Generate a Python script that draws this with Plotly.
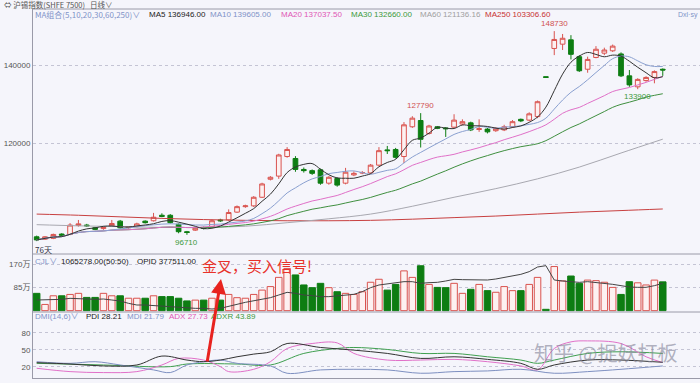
import plotly.graph_objects as go
import pandas as pd

# ---------------- data ----------------
idx = list(range(76))
opens = [96200, 95600, 95800, 96900, 96800, 99100, 99200, 98500, 98300, 99000,
         100200, 98500, 98800, 100200, 100300, 101700, 101700, 99400, 97500, 97900,
         98600, 98800, 100500, 100500, 102500, 103900, 104100, 106300, 110900, 111700,
         116700, 116200, 113400, 113100, 113300, 109900, 111100, 109900, 112000, 112500,
         112500, 114500, 118400, 118500, 116700, 124300, 125900, 122600, 124300, 124000,
         124200, 125000, 125300, 123600, 123700, 123300, 123500, 124300, 126200, 126000,
         126900, 137100, 144300, 145400, 146500, 142200, 139000, 142000, 143100, 143700,
         142900, 137300, 134500, 136100, 136900, 139000]
highs = [96500, 96400, 97000, 97100, 99700, 100500, 99500, 98700, 98900, 100500,
         100500, 98900, 99800, 100400, 102300, 102200, 102000, 99600, 97700, 98600,
         98800, 100600, 100800, 103200, 104200, 104400, 106600, 110000, 111700, 117400,
         119100, 116800, 113900, 113400, 113600, 111700, 111400, 113800, 112900, 113000,
         114800, 119100, 119400, 118900, 125500, 127000, 127790, 124800, 124500, 124200,
         127500, 126200, 125600, 126200, 124000, 124200, 124800, 126000, 126400, 128000,
         131000, 137100, 148730, 148000, 147700, 142600, 142200, 144900, 144500, 145300,
         143300, 138800, 136700, 137200, 138700, 139200]
lows = [95100, 95400, 95600, 96400, 96600, 98800, 98700, 97900, 98000, 98800,
        98300, 98300, 98600, 99600, 100100, 101200, 99600, 97100, 96710, 97700,
        98100, 98600, 100000, 100300, 102300, 103600, 103800, 106100, 110600, 111000,
        116400, 112800, 112600, 112000, 109500, 109500, 109000, 109600, 111700, 112200,
        112300, 114200, 117350, 116200, 115000, 124000, 119000, 122300, 123700, 121700,
        123900, 124700, 123200, 123000, 122600, 123000, 123200, 124000, 125500, 125700,
        126500, 136900, 142600, 143900, 141500, 138300, 138100, 141800, 142600, 143400,
        137000, 134500, 133900, 135800, 135400, 137300]
closes = [95400, 96200, 96800, 96600, 99200, 99500, 99000, 98100, 98600, 99600,
          98500, 98700, 99500, 99800, 101200, 101400, 99800, 97500, 97300, 98400,
          98400, 100300, 100300, 102400, 103900, 104100, 106300, 109700, 111400, 117100,
          118500, 113400, 113100, 112400, 109900, 111400, 109400, 112700, 112400, 112600,
          114500, 118200, 118200, 116500, 124800, 126500, 121100, 124500, 123900, 123800,
          126000, 125600, 123500, 123800, 123000, 123900, 124300, 125600, 125800, 127600,
          130700, 136900, 146600, 146900, 142800, 138600, 141500, 144100, 143900, 144900,
          137300, 135000, 136400, 136900, 138400, 138800]
# volume in 万 (10k)
volume = [64, 23, 55, 55, 60, 64, 49, 49, 64, 55,
          55, 46, 46, 46, 55, 52, 52, 46, 36, 39,
          39, 46, 39, 60, 48, 46, 60, 76, 89, 123,
          156, 132, 95, 85, 101, 85, 70, 64, 60, 70,
          105, 116, 76, 97, 147, 123, 166, 97, 86, 85,
          101, 64, 79, 97, 74, 68, 89, 74, 74, 97,
          123, 5, 163, 110, 128, 101, 113, 111, 105, 86,
          60, 107, 103, 95, 113, 106.5]
opid = [317500, 317500, 319900, 319900, 323500, 323500, 321100, 319900, 321100, 317500,
        313900, 305500, 299500, 299500, 297100, 295900, 293500, 292300, 289900, 287500,
        287500, 285100, 287500, 295900, 301900, 309100, 313900, 321100, 325900, 335500,
        345100, 341500, 335500, 333100, 329500, 329500, 333100, 335500, 337900, 347500,
        361900, 371500, 375100, 381100, 383500, 383500, 377500, 379900, 381100, 385900,
        391900, 390700, 389500, 388300, 389500, 393100, 397900, 405100, 409900, 419500,
        436300, 441100, 389500, 385900, 383500, 381100, 383500, 381100, 377500, 373900,
        369100, 364300, 363100, 363100, 369100, 377511]
ma_idx = [0, 5, 10, 15, 20, 25, 30, 35, 40, 45, 50, 55, 60, 65, 70, 75]
ma60 = [99300, 99000, 98800, 98600, 98600, 98900, 99800, 100800, 102000, 104000,
        106300, 108500, 111000, 114000, 117600, 121136.16]
ma250 = [102000, 101700, 101300, 100900, 100600, 100400, 100300, 100300, 100400, 100700,
         101100, 101500, 102000, 102500, 102900, 103306.6]

pdi_idx = [0, 4, 8, 12, 15, 18, 20, 22, 24, 26, 28, 30, 34, 38, 42, 46, 50, 54, 58, 60, 62, 66, 70, 75]
pdi = [27.6, 25.2, 21.8, 23.5, 39.2, 32.2, 29.3, 32.2, 38, 42.7, 46.8, 61.4, 54.4, 49.7, 43.9,
       35.1, 38, 33.4, 26.4, 15.9, 23.5, 32.2, 32.2, 28.21]
mdi_idx = [0, 4, 7, 10, 14, 16, 18, 20, 22, 24, 28, 30, 34, 38, 42, 46, 50, 54, 58, 62, 66, 70, 75]
mdi = [29.3, 26.4, 29.3, 23.5, 14.8, 10.1, 23.5, 29.3, 32.2, 26.4, 21.8, 8.9, 14.8, 15.9, 14.8,
       8.9, 11.8, 13, 15.9, 8.9, 11.8, 15.9, 21.79]
adx_idx = [0, 4, 8, 12, 15, 17, 20, 22, 23, 26, 28, 30, 33, 36, 38, 42, 46, 50, 54, 58, 60, 62, 64, 66, 70, 73, 75]
adx = [17.7, 11.8, 10.1, 11.8, 23.5, 35.1, 32.2, 20.6, 11.8, 15.9, 29.3, 52.6, 61.4, 62.5, 43.9,
       32.2, 32.2, 33.4, 29.3, 21.8, 14.8, 52.6, 64.3, 66, 61.4, 38, 27.73]
adxr_idx = [0, 8, 16, 18, 24, 28, 32, 36, 38, 42, 46, 50, 54, 58, 60, 62, 66, 70, 75]
adxr = [26.4, 23.5, 20.6, 25.2, 25.2, 23.5, 43.9, 52.6, 54.4, 50.9, 43.9, 43.9, 38, 32.2, 26.4,
        32.2, 43.9, 46.8, 43.89]

date_idx = [14, 37, 58]
date_txt = ["2016/11/01", "2016/12/01", "2017/01/03"]

# ---------------- styling ----------------
W, H = 700, 383
BG = "#f5f5fb"
UP_LINE = "#d9534f"
UP_FILL = "#fdf1f1"
DN = "#0d7d12"
FONT = "Liberation Sans, Noto Sans CJK SC, sans-serif"
CJK = "Noto Sans CJK SC, sans-serif"


def px(x):
    return x / W


def py(y):
    return 1 - y / H


cs = pd.Series(closes)
ma5 = cs.rolling(5, min_periods=1).mean()
ma10 = cs.rolling(10, min_periods=1).mean()
ma20 = cs.rolling(20, min_periods=1).mean()
ma30 = cs.rolling(30, min_periods=1).mean()

fig = go.Figure()

for xs, ys, col in [(ma_idx, ma250, "#c84040"), (ma_idx, ma60, "#a8a8b0"),
                    (idx, ma30, "#3f8f3f"), (idx, ma20, "#e070c8"),
                    (idx, ma10, "#8aa0d0"), (idx, ma5, "#333333")]:
    fig.add_trace(go.Scatter(x=xs, y=ys, mode="lines", line=dict(color=col, width=1, shape="spline"),
                             hoverinfo="skip", xaxis="x", yaxis="y"))

fig.add_trace(go.Candlestick(
    x=idx, open=opens, high=highs, low=lows, close=closes,
    increasing=dict(line=dict(color=UP_LINE, width=1), fillcolor=UP_FILL),
    decreasing=dict(line=dict(color=DN, width=1), fillcolor=DN),
    whiskerwidth=0, xaxis="x", yaxis="y"))

up = [c >= o for o, c in zip(opens, closes)]
fig.add_trace(go.Bar(
    x=idx, y=volume, width=0.78,
    marker=dict(color=[UP_FILL if u else DN for u in up],
                line=dict(color=[UP_LINE if u else DN for u in up], width=1)),
    xaxis="x", yaxis="y2"))
fig.add_trace(go.Scatter(x=idx, y=opid, mode="lines", line=dict(color="#444444", width=1),
                         xaxis="x", yaxis="y3"))

for xs, ys, col in [(adxr_idx, adxr, "#3f9f4f"), (adx_idx, adx, "#e070c8"),
                    (mdi_idx, mdi, "#7d8fc0"), (pdi_idx, pdi, "#333333")]:
    fig.add_trace(go.Scatter(x=xs, y=ys, mode="lines", line=dict(color=col, width=1, shape="spline"),
                             xaxis="x", yaxis="y4"))

# ---------------- axes ----------------
x_left, x_right = -0.44, 79.46
grid = dict(showgrid=True, gridcolor="#c4c4d4", griddash="dot", gridwidth=1, automargin=False,
            showline=True, linecolor="#9a9aa8", linewidth=1, zeroline=False,
            ticks="", tickfont=dict(size=8, color="#555", family=FONT))
fig.update_layout(
    width=W, height=H, margin=dict(l=0, r=0, t=0, b=0, autoexpand=False),
    paper_bgcolor=BG, plot_bgcolor=BG, showlegend=False, boxgap=0.2,
    xaxis=dict(domain=[px(33), 1], range=[x_left, x_right], anchor="y4", automargin=False,
               rangeslider=dict(visible=False), showgrid=False, zeroline=False,
               showline=True, linecolor="#9a9aa8", ticks="",
               tickvals=date_idx, ticktext=date_txt,
               tickfont=dict(size=8, color="#666", family=FONT)),
    yaxis=dict(domain=[py(254), py(9)], range=[91807, 154379],
               tickvals=[120000, 140000], ticktext=["120000", "140000"], **grid),
    yaxis2=dict(domain=[py(312), py(254)], range=[-4.9, 209.4],
                tickvals=[85, 170], ticktext=["85万", "170万"], **grid),
    yaxis3=dict(overlaying="y2", range=[274300, 483100], visible=False, automargin=False),
    yaxis4=dict(domain=[py(378.3), py(312)], range=[0, 117],
                tickvals=[20, 50, 80], **grid),
)

for yy in [9, 254, 312]:
    fig.add_shape(type="line", xref="paper", yref="paper", x0=px(33), x1=1, y0=py(yy), y1=py(yy),
                  line=dict(color="#9a9aa8", width=1))

ann = []


def txt(t, x, y, color, size=8, font=FONT, xanchor="left"):
    ann.append(dict(text=t, x=px(x), y=py(y), xref="paper", yref="paper", showarrow=False,
                    xanchor=xanchor, yanchor="middle",
                    font=dict(color=color, size=size, family=font)))


txt("⇔ 沪锡指数(SHFE 7500)   日线∨", 2, 5, "#555", 7.5, CJK)
txt("MA组合(5,10,20,30,60,250)∨", 33, 15, "#7f93c8", 8, CJK)
txt("MA5 136946.00", 147, 15, "#222", 8)
txt("MA10 139605.00", 208, 15, "#7f93c8", 8)
txt("MA20 137037.50", 279, 15, "#e055b5", 8)
txt("MA30 132660.00", 349, 15, "#3c9a3c", 8)
txt("MA60 121136.16", 418, 15, "#a0a0a0", 8)
txt("MA250 103306.60", 483, 15, "#c83232", 8)
txt("Dxl·sy", 676, 15, "#7f93c8", 7)
txt("76天", 33, 249, "#334", 8, CJK)
txt("CJL∨", 33, 261, "#7f93c8", 8)
txt("1065278.00(50:50)", 59, 261, "#222", 8)
txt("OPID 377511.00", 135, 261, "#222", 8)
txt("DMI(14,6)∨", 33, 316, "#7f93c8", 8)
txt("PDI 28.21", 84, 316, "#222", 8)
txt("MDI 21.79", 125, 316, "#7f93c8", 8)
txt("ADX 27.73", 167, 316, "#e055b5", 8)
txt("ADXR 43.89", 209, 316, "#3c9a3c", 8)
txt("金叉，买入信号!", 200, 265, "#e8312a", 15, CJK)
txt("知乎 @捉妖打板", 532, 352, "rgba(130,130,150,0.6)", 20, CJK)

for i, val, col, below in [(62, highs[62], "#d05050", False), (46, highs[46], "#d05050", False),
                           (72, lows[72], "#3c9a3c", True), (18, lows[18], "#3c9a3c", True)]:
    ann.append(dict(text=str(val), x=i, y=val, xref="x", yref="y", showarrow=False,
                    yanchor="top" if below else "bottom", yshift=-1 if below else 1,
                    font=dict(color=col, size=8, family=FONT)))

ann.append(dict(text="", x=px(221), y=py(279), xref="paper", yref="paper", showarrow=True,
                ax=-14, ay=84, arrowhead=2, arrowsize=1, arrowwidth=3, arrowcolor="#e8231f"))

fig.update_layout(annotations=ann)
fig.write_html("out.html")
